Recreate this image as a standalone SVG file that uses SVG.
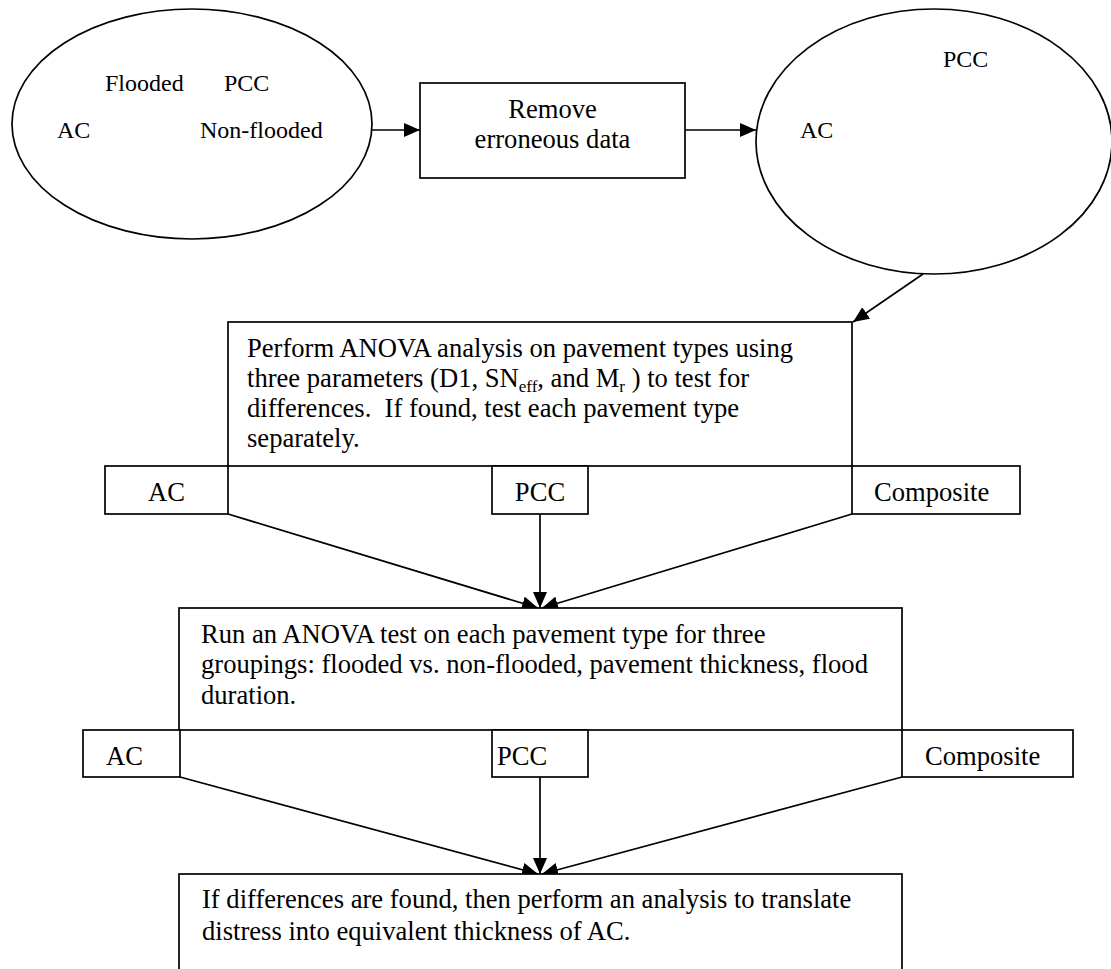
<svg xmlns="http://www.w3.org/2000/svg" width="1111" height="969" viewBox="0 0 1111 969">
<style>
.shape{fill:#fff;stroke:#000;stroke-width:1.7}
.conn{fill:none;stroke:#000;stroke-width:1.7}
.t{font-family:"Liberation Serif","Times New Roman",serif;font-size:26.6px;fill:#000}
.te{font-family:"Liberation Serif","Times New Roman",serif;font-size:24px;fill:#000}
.sub{font-size:17px}
</style>
<defs>
<marker id="arr" markerUnits="userSpaceOnUse" markerWidth="16" markerHeight="14" refX="16" refY="7" orient="auto">
<path d="M0,0 L16,7 L0,14 z" fill="#000"/>
</marker>
</defs>
<rect width="1111" height="969" fill="#fff"/>
<g id="connectors">
<line class="conn" x1="372" y1="130" x2="420" y2="130" marker-end="url(#arr)"/>
<line class="conn" x1="685" y1="130" x2="756" y2="130" marker-end="url(#arr)"/>
<line class="conn" x1="923" y1="274" x2="853" y2="322" marker-end="url(#arr)"/>
<line class="conn" x1="228" y1="514" x2="538" y2="608" marker-end="url(#arr)"/>
<line class="conn" x1="540" y1="514" x2="540" y2="608" marker-end="url(#arr)"/>
<line class="conn" x1="852" y1="514" x2="542" y2="608" marker-end="url(#arr)"/>
<line class="conn" x1="180" y1="777" x2="538" y2="874" marker-end="url(#arr)"/>
<line class="conn" x1="540" y1="777" x2="540" y2="874" marker-end="url(#arr)"/>
<line class="conn" x1="902" y1="777" x2="542" y2="874" marker-end="url(#arr)"/>
</g>
<g id="raw-data">
<ellipse class="shape" cx="192" cy="124" rx="180" ry="115"/>
<text class="te" x="105" y="91">Flooded</text>
<text class="te" x="224" y="91">PCC</text>
<text class="te" x="57" y="138">AC</text>
<text class="te" x="200" y="138">Non-flooded</text>
</g>
<g id="remove-erroneous">
<rect class="shape" x="420" y="83" width="265" height="95"/>
<text class="t" x="552.5" y="118" text-anchor="middle">Remove</text>
<text class="t" x="552.5" y="148" text-anchor="middle">erroneous data</text>
</g>
<g id="clean-data">
<ellipse class="shape" cx="934" cy="141.5" rx="178" ry="132.5"/>
<text class="te" x="943" y="67">PCC</text>
<text class="te" x="800" y="138">AC</text>
</g>
<g id="anova-types">
<rect class="shape" x="228" y="322" width="624" height="144"/>
<text class="t" x="247" y="357">Perform ANOVA analysis on pavement types using</text>
<text class="t" x="247" y="387">three parameters (D1, SN<tspan class="sub" dy="5">eff</tspan><tspan dy="-5">, and M</tspan><tspan class="sub" dy="5">r</tspan><tspan dy="-5"> ) to test for</tspan></text>
<text class="t" x="247" y="417">differences.&#160; If found, test each pavement type</text>
<text class="t" x="247" y="447">separately.</text>
</g>
<g id="ac-1">
<rect class="shape" x="105" y="466" width="123" height="48"/>
<text class="t" x="166.5" y="501" text-anchor="middle">AC</text>
</g>
<g id="pcc-1">
<rect class="shape" x="492" y="466" width="96" height="48"/>
<text class="t" x="540" y="501" text-anchor="middle">PCC</text>
</g>
<g id="composite-1">
<rect class="shape" x="852" y="466" width="168" height="48"/>
<text class="t" x="874" y="501">Composite</text>
</g>
<g id="anova-groupings">
<rect class="shape" x="179" y="608" width="723" height="122"/>
<text class="t" x="201" y="643">Run an ANOVA test on each pavement type for three</text>
<text class="t" x="201" y="673">groupings: flooded vs. non-flooded, pavement thickness, flood</text>
<text class="t" x="201" y="704">duration.</text>
</g>
<g id="ac-2">
<rect class="shape" x="83" y="730" width="97" height="47"/>
<text class="t" x="106" y="765">AC</text>
</g>
<g id="pcc-2">
<rect class="shape" x="492" y="730" width="96" height="47"/>
<text class="t" x="497" y="765">PCC</text>
</g>
<g id="composite-2">
<rect class="shape" x="902" y="730" width="171" height="47"/>
<text class="t" x="925" y="765">Composite</text>
</g>
<g id="translate">
<rect class="shape" x="179" y="874" width="723" height="130"/>
<text class="t" x="202" y="908">If differences are found, then perform an analysis to translate</text>
<text class="t" x="202" y="940">distress into equivalent thickness of AC.</text>
</g>
</svg>
